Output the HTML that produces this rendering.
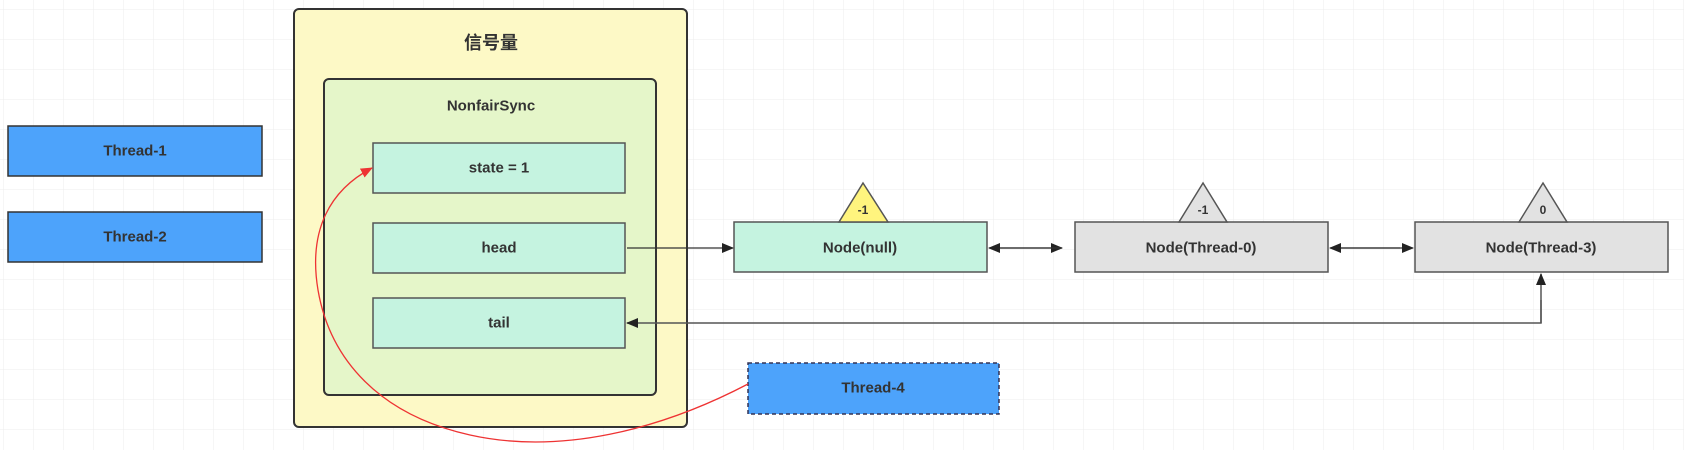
<!DOCTYPE html>
<html><head><meta charset="utf-8"><style>
html,body{margin:0;padding:0;background:#fff;}
svg{display:block;}
text{font-family:"Liberation Sans","Noto Sans CJK SC",sans-serif;font-weight:bold;fill:#333;text-anchor:middle;dominant-baseline:central;}
</style></head><body>
<svg width="1684" height="450" viewBox="0 0 1684 450" xmlns="http://www.w3.org/2000/svg">
<defs>
<pattern id="g" width="30" height="30" patternUnits="userSpaceOnUse" x="4" y="10">
<path d="M30 0V30M0 30H30" stroke="#ececec" stroke-width="1" fill="none"/>
</pattern>
<marker id="a" markerWidth="12" markerHeight="10" refX="11" refY="5" orient="auto" markerUnits="userSpaceOnUse">
<path d="M0,0 L12,5 L0,10 Z" fill="#222"/></marker>
<marker id="ar" markerWidth="12" markerHeight="10" refX="11" refY="5" orient="auto" markerUnits="userSpaceOnUse">
<path d="M0,0 L12,5 L0,10 Z" fill="#e33"/></marker>
</defs>
<rect width="1684" height="450" fill="url(#g)"/>
<!-- outer -->
<rect x="294" y="9" width="393" height="418" rx="5" fill="#fdf9c6" stroke="#333" stroke-width="2"/>
<text x="491" y="43" font-size="18">信号量</text>
<rect x="324" y="79" width="332" height="316" rx="5" fill="#e5f6c9" stroke="#333" stroke-width="2"/>
<text x="491" y="106" font-size="15">NonfairSync</text>
<rect x="373" y="143" width="252" height="50" fill="#c5f3e0" stroke="#555" stroke-width="1.5"/>
<text x="499" y="168" font-size="15">state = 1</text>
<rect x="373" y="223" width="252" height="50" fill="#c5f3e0" stroke="#555" stroke-width="1.5"/>
<text x="499" y="248" font-size="15">head</text>
<rect x="373" y="298" width="252" height="50" fill="#c5f3e0" stroke="#555" stroke-width="1.5"/>
<text x="499" y="323" font-size="15">tail</text>
<!-- threads -->
<rect x="8" y="126" width="254" height="50" fill="#4da3fb" stroke="#333" stroke-width="1.5"/>
<text x="135" y="151" font-size="15">Thread-1</text>
<rect x="8" y="212" width="254" height="50" fill="#4da3fb" stroke="#333" stroke-width="1.5"/>
<text x="135" y="237" font-size="15">Thread-2</text>
<rect x="748" y="363" width="251" height="51" fill="#4da3fb" stroke="#335" stroke-width="1.5" stroke-dasharray="4,3"/>
<text x="873" y="388" font-size="15">Thread-4</text>
<!-- nodes -->
<rect x="734" y="222" width="253" height="50" fill="#c5f3e0" stroke="#555" stroke-width="1.5"/>
<text x="860" y="248" font-size="15">Node(null)</text>
<rect x="1075" y="222" width="253" height="50" fill="#e2e2e2" stroke="#555" stroke-width="1.5"/>
<text x="1201" y="248" font-size="15">Node(Thread-0)</text>
<rect x="1415" y="222" width="253" height="50" fill="#e2e2e2" stroke="#555" stroke-width="1.5"/>
<text x="1541" y="248" font-size="15">Node(Thread-3)</text>
<polygon points="863,183 888,222 839,222" fill="#fff47e" stroke="#555" stroke-width="1.5"/>
<text x="863" y="210" font-size="12">-1</text>
<polygon points="1203,183 1227,222 1179,222" fill="#e2e2e2" stroke="#555" stroke-width="1.5"/>
<text x="1203" y="210" font-size="12">-1</text>
<polygon points="1543,183 1567,222 1519,222" fill="#e2e2e2" stroke="#555" stroke-width="1.5"/>
<text x="1543" y="210" font-size="12">0</text>
<!-- connectors -->
<line x1="627" y1="248" x2="733" y2="248" stroke="#333" stroke-width="1.3" marker-end="url(#a)"/>
<line x1="1000" y1="248" x2="1062" y2="248" stroke="#333" stroke-width="1.3" marker-end="url(#a)"/>
<line x1="1062" y1="248" x2="989" y2="248" stroke="#333" stroke-width="1.3" marker-end="url(#a)"/>
<line x1="1340" y1="248" x2="1413" y2="248" stroke="#333" stroke-width="1.3" marker-end="url(#a)"/>
<line x1="1400" y1="248" x2="1330" y2="248" stroke="#333" stroke-width="1.3" marker-end="url(#a)"/>
<polyline points="1541,300 1541,323 627,323" fill="none" stroke="#555" stroke-width="1.5" marker-end="url(#a)"/>
<line x1="1541" y1="323" x2="1541" y2="274" stroke="#555" stroke-width="1.5" marker-end="url(#a)"/>
<path d="M748,384 C660,430 560,455 470,435 C380,415 330,360 318,290 C308,230 330,190 372,168" fill="none" stroke="#e33" stroke-width="1.3" marker-end="url(#ar)"/>
</svg>
</body></html>
